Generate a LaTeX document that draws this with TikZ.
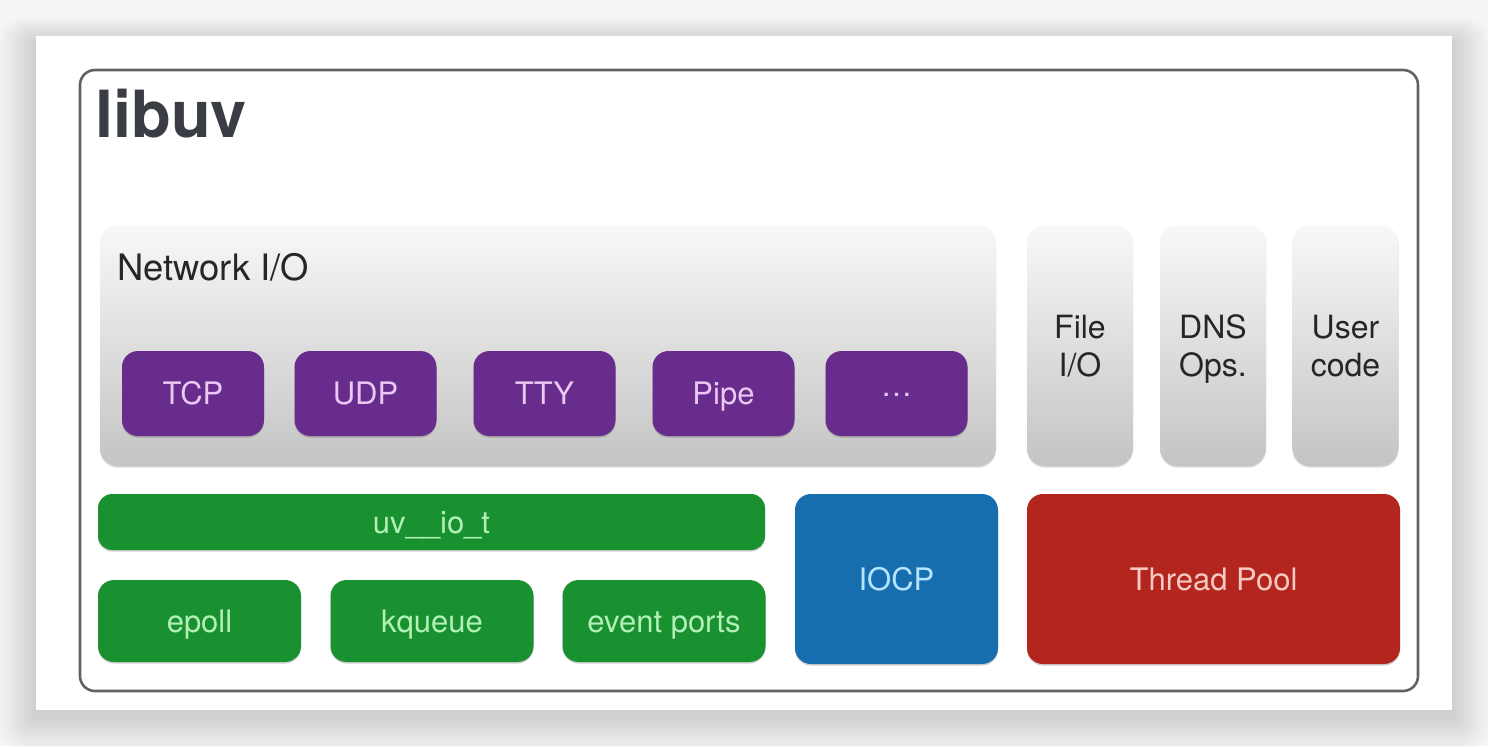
\documentclass[tikz,border=0pt]{standalone}
\usepackage{fontspec}
\setmainfont{TeX Gyre Heros}
\usetikzlibrary{shadows}
\definecolor{cpurple}{RGB}{104,44,140}
\definecolor{tpurple}{RGB}{234,200,243}
\definecolor{cgreen}{RGB}{26,145,48}
\definecolor{tgreen}{RGB}{178,240,184}
\definecolor{cblue}{RGB}{22,110,175}
\definecolor{tblue}{RGB}{180,228,255}
\definecolor{cred}{RGB}{178,38,30}
\definecolor{tred}{RGB}{246,202,195}
\definecolor{framecol}{RGB}{98,98,102}
\definecolor{titlecol}{RGB}{58,61,68}
\definecolor{graytop}{RGB}{248,248,248}
\definecolor{graymid}{RGB}{228,228,228}
\definecolor{graybot}{RGB}{196,196,196}
\definecolor{bgcol}{RGB}{245,245,245}
\begin{document}
\begin{tikzpicture}[x=0.5pt,y=-0.5pt,
  boxlabel/.style={font=\fontsize{15.5}{19}\selectfont, text height=11.1pt, text depth=0pt},
  colorbox/.style={rounded corners=8pt, inner sep=0pt, outer sep=0pt, boxlabel,
    general shadow={shadow yshift=-0.8pt, fill=black, opacity=0.18}},
  purplebox/.style={colorbox, fill=cpurple, text=tpurple, minimum width=71pt, minimum height=42.5pt},
  greenbox/.style={colorbox, fill=cgreen, text=tgreen, rounded corners=7pt},
  bluebox/.style={colorbox, fill=cblue, text=tblue},
  redbox/.style={colorbox, fill=cred, text=tred},
  graybox/.style={rounded corners=9pt, inner sep=0pt, outer sep=0pt,
    top color=graytop, middle color=graymid, bottom color=graybot,
    general shadow={shadow yshift=-0.8pt, fill=black, opacity=0.15}},
  colbox/.style={graybox, minimum width=53pt, minimum height=120.5pt, text=black!85,
    align=center, font=\fontsize{16}{19}\selectfont, text depth=0pt},
  frame/.style={draw=framecol, line width=1.3pt, rounded corners=7.5pt, inner sep=0pt}
]
\useasboundingbox (0,0) rectangle (1488,746);
% background and card shadow
\fill[bgcol] (0,0) rectangle (1488,746);
\foreach \i in {1,...,12}{
  \fill[black, opacity=0.011, rounded corners=\i pt] (36-3*\i,36-2*\i+6) rectangle (1452+3*\i,710+3*\i+6);
}
\node[fill=white, inner sep=0pt, outer sep=0pt, minimum width=708pt, minimum height=337pt] (card) at (744,373) {};
% main frame
\node[frame, minimum width=669pt, minimum height=310.5pt] (libuvbox) at (749,380.5) {};
\node[anchor=base west, inner sep=0pt, text=titlecol, font=\fontsize{32.5}{36}\selectfont\bfseries] (title) at (95,137) {libuv};
% network I/O
\node[graybox, minimum width=448pt, minimum height=120.5pt] (netio) at (548,345.5) {};
\node[anchor=base west, inner sep=0pt, text=black!85, font=\fontsize{18.2}{21}\selectfont] (netlabel) at (117,280) {Network I/O};
\node[purplebox] (tcp) at (193,393.5) {TCP};
\node[purplebox] (udp) at (365.5,393.5) {UDP};
\node[purplebox] (tty) at (544.5,393.5) {TTY};
\node[purplebox] (pipe) at (723.5,393.5) {Pipe};
\node[purplebox, text height=3pt] (more) at (896.5,393.5) {\ldots};
% columns
\node[colbox] (fileio) at (1080,345.5) {File\\I/O};
\node[colbox] (dns) at (1213,345.5) {DNS\\Ops.};
\node[colbox] (user) at (1345.5,345.5) {User\\code};
% bottom row
\node[greenbox, minimum width=333.5pt, minimum height=28pt] (uvio) at (431.5,522) {uv\_\_io\_t};
\node[greenbox, minimum width=101.5pt, minimum height=41pt, rounded corners=8pt] (epoll) at (199.5,621) {epoll};
\node[greenbox, minimum width=101.5pt, minimum height=41pt, rounded corners=8pt] (kqueue) at (432,621) {kqueue};
\node[greenbox, minimum width=101.5pt, minimum height=41pt, rounded corners=8pt] (evports) at (664,621) {event ports};
\node[bluebox, minimum width=101.5pt, minimum height=85pt] (iocp) at (896.5,579) {IOCP};
\node[redbox, minimum width=186.5pt, minimum height=85pt] (tpool) at (1213.5,579) {Thread Pool};
\end{tikzpicture}
\end{document}
